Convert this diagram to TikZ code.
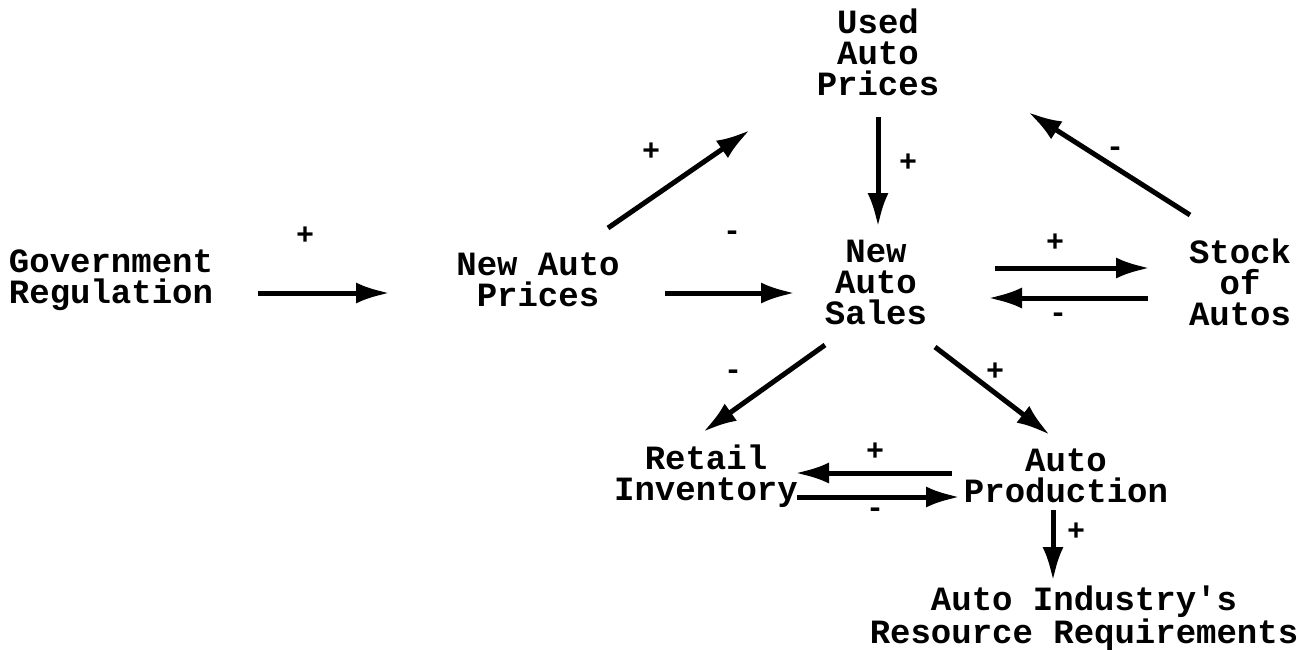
\documentclass[tikz,border=0pt]{standalone}
\usepackage{fontspec}
\setmainfont{Liberation Mono}
\usepackage{tikz}
\usetikzlibrary{arrows.meta,positioning}

\begin{document}
\begin{tikzpicture}[x=1pt,y=-1pt]

    \tikzstyle{every node}=[inner sep=0pt, align=center, font=\fontsize{34}{31}\selectfont\bfseries]
    \tikzstyle{link}=[line width=5pt, -{Latex[length=34pt,width=21pt]}]
    \tikzstyle{sign}=[font=\fontsize{30}{30}\selectfont\bfseries]

    \useasboundingbox (0,0) rectangle (1310,649);

    \node (gov)    at (111,280)  {Government\\Regulation};
    \node (nap)    at (538,280)  {New Auto\\Prices};
    \node (used)   at (878,52)   {Used\\Auto\\Prices};
    \node (sales)  at (876,282)  {New\\Auto\\Sales};
    \node (stock)  at (1240,282) {Stock\\of\\Autos};
    \node (retail) at (706,476)  {Retail\\Inventory};
    \node (prod)   at (1066,476) {Auto\\Production};
    \node (req)    at (1084,618) {Auto Industry\textquotesingle s\\Resource Requirements};

    % links
    \draw[link] ([shift={(147,13)}]gov.center) -- ([shift={(-148,13)}]nap.center);
    \draw[link] ([shift={(70,-52)}]nap.center) -- ([shift={(-128,78)}]used.center);
    \draw[link] ([shift={(127,13)}]nap.center) -- ([shift={(-81,11)}]sales.center);
    \draw[link] ([shift={(0,65)}]used.center) -- ([shift={(2,-55)}]sales.center);
    \draw[link] ([shift={(119,-14)}]sales.center) -- ([shift={(-90,-14)}]stock.center);
    \draw[link] ([shift={(-92,16)}]stock.center) -- ([shift={(112,16)}]sales.center);
    \draw[link] ([shift={(-50,-67)}]stock.center) -- ([shift={(150,60)}]used.center);
    \draw[link] ([shift={(-51,63)}]sales.center) -- ([shift={(-3,-44)}]retail.center);
    \draw[link] ([shift={(59,65)}]sales.center) -- ([shift={(-16,-41)}]prod.center);
    \draw[link] ([shift={(-114,-3)}]prod.center) -- ([shift={(89,-3)}]retail.center);
    \draw[link] ([shift={(91,21)}]retail.center) -- ([shift={(-106,21)}]prod.center);
    \draw[link] ([shift={(-13,34)}]prod.center) -- ([shift={(-31,-37)}]req.center);

    % signs
    \node[sign] (s1)  at (305,236)  {+};
    \node[sign] (s2)  at (651,152)  {+};
    \node[sign] (s3)  at (732,236)  {-};
    \node[sign] (s4)  at (908,163)  {+};
    \node[sign] (s5)  at (1055,243) {+};
    \node[sign] (s6)  at (1058,318) {-};
    \node[sign] (s7)  at (1115,152) {-};
    \node[sign] (s8)  at (733,375)  {-};
    \node[sign] (s9)  at (995,372)  {+};
    \node[sign] (s10) at (875,452)  {+};
    \node[sign] (s11) at (875,513)  {-};
    \node[sign] (s12) at (1076,532) {+};

\end{tikzpicture}
\end{document}
